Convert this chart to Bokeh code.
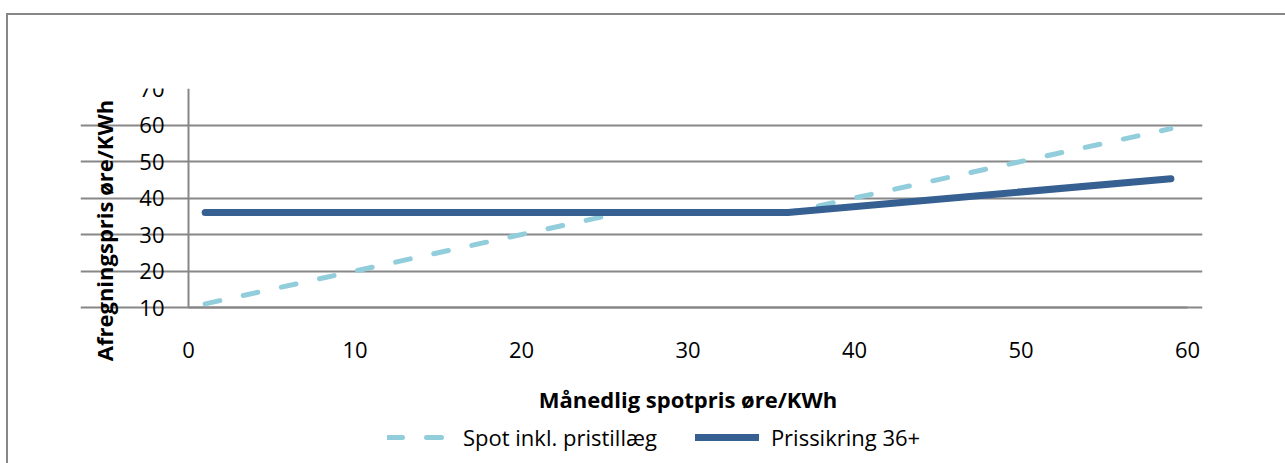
import math
from bokeh.plotting import figure
from bokeh.models import Range1d, Legend, LegendItem, Label, FixedTicker
from bokeh.embed import file_html
from bokeh.resources import INLINE

# data
spot_x = [1, 26, 36, 59]
spot_y = [11, 36, 36, 59]
hedge_x = [1, 36, 59]
hedge_y = [36, 36, 45.3]
x_ticks = [0, 10, 20, 30, 40, 50, 60]
y_ticks = [10, 20, 30, 40, 50, 60, 70]
series_names = ["Spot inkl. pristillæg", "Prissikring 36+"]
x_title = "Månedlig spotpris øre/KWh"
y_title = "Afregningspris øre/KWh"

FONT = "Open Sans"
GRID = "#878787"
LIGHT = "#92CDDC"
DARK = "#366092"

# scale: 999 px for 60 units in x, 3.65 px per unit in y
PXX = 999 / 60
LEFT_PAD = 108   # frame starts 108 px left of x=0 so axis labels/title stay visible
RIGHT_PAD = 15
x_start = -LEFT_PAD / PXX
x_end = 60 + RIGHT_PAD / PXX

# frame extends around the plot area so the fixed-location axes, titles and legend are drawn inside it
p = figure(width=1277, height=448, output_backend="svg", toolbar_location=None,
           x_range=Range1d(x_start, x_end), y_range=Range1d(-30, 70),
           min_border_left=72, min_border_right=83, min_border_top=73, min_border_bottom=10)
p.frame_width = 999 + LEFT_PAD + RIGHT_PAD
p.frame_height = 365
p.outline_line_color = None
p.background_fill_color = "white"
p.border_fill_color = "white"
p.styles = {"border-left": "2px solid #878787", "border-top": "2px solid #878787",
            "margin-left": "6px", "margin-top": "13px"}

p.xgrid.visible = False
p.ygrid.grid_line_color = GRID
p.ygrid.grid_line_width = 2
p.yaxis.ticker = FixedTicker(ticks=y_ticks)
p.xaxis.ticker = FixedTicker(ticks=x_ticks)
p.ygrid.bounds = (x_ticks[0], x_ticks[-1])
p.yaxis.bounds = (y_ticks[0], y_ticks[-1])
p.xaxis.bounds = (x_ticks[0], x_ticks[-1])
p.xaxis.fixed_location = y_ticks[0]
p.yaxis.fixed_location = x_ticks[0]
for ax in (p.xaxis[0], p.yaxis[0]):
    ax.axis_line_color = GRID
    ax.axis_line_width = 2
    ax.major_tick_line_color = None
    ax.minor_tick_line_color = None
    ax.major_tick_out = 0
    ax.major_tick_in = 0
    ax.minor_tick_out = 0
    ax.major_label_text_font = FONT
    ax.major_label_text_font_size = "22px"
    ax.major_label_text_color = "black"
p.yaxis.major_label_standoff = 24
p.xaxis.major_label_standoff = 34
p.xaxis.axis_label = x_title
p.xaxis.axis_label_text_font = FONT
p.xaxis.axis_label_text_font_style = "bold"
p.xaxis.axis_label_text_font_size = "22px"
p.xaxis.axis_label_text_color = "black"
p.xaxis.axis_label_standoff = 23

r1 = p.line(spot_x, spot_y, line_color=LIGHT, line_width=5, line_dash="15 24", line_cap="round")
r2 = p.line(hedge_x, hedge_y, line_color=DARK, line_width=7, line_cap="round", line_join="round")

# y-axis title, placed left of the tick labels
p.add_layout(Label(x=-85 / PXX, y=70 - 142 / 3.65, text=y_title, angle=math.pi / 2,
                   text_align="center", text_baseline="middle", text_font=FONT,
                   text_font_style="bold", text_font_size="22px", text_color="black"))

legend = Legend(items=[LegendItem(label=series_names[0], renderers=[r1]),
                       LegendItem(label=series_names[1], renderers=[r2])],
                orientation="horizontal", location=(LEFT_PAD + 199, 1),
                glyph_width=64, glyph_height=20, label_standoff=12, spacing=38,
                padding=0, margin=0, border_line_color=None, background_fill_alpha=0,
                label_text_font=FONT, label_text_font_size="22px", label_text_color="black")
p.add_layout(legend, "center")

open("out.html", "w").write(file_html(p, INLINE))
